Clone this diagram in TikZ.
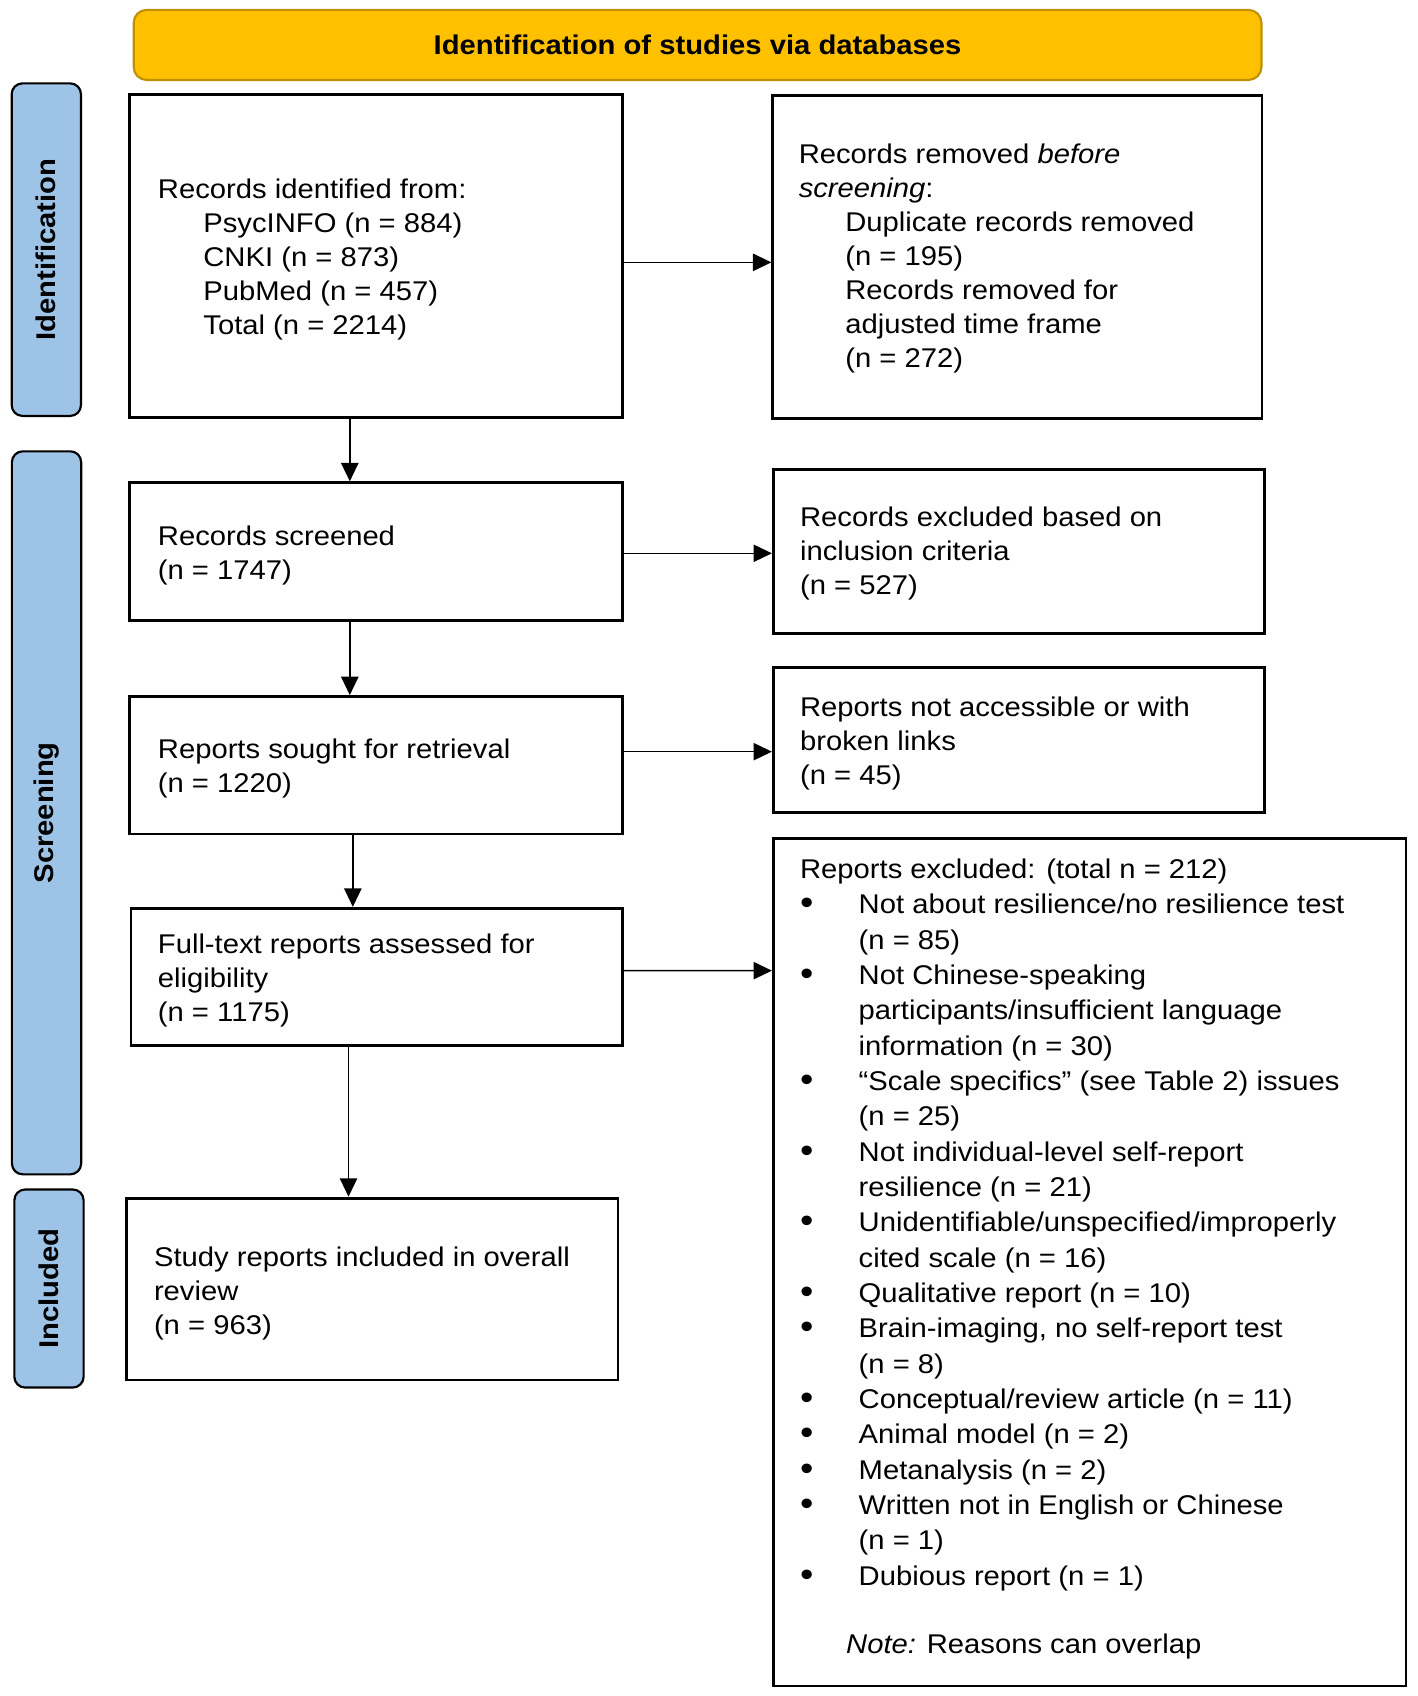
\documentclass[tikz,border=0pt]{standalone}
\usepackage{fontspec}
\setmainfont{Liberation Sans}[FakeStretch=1.08]
\usetikzlibrary{arrows.meta}
\definecolor{ybar}{HTML}{FFC000}
\definecolor{yedge}{HTML}{BF9000}
\definecolor{bbar}{HTML}{9DC3E6}
\newcommand\pbul{\hspace*{0pt}\makebox[54.2pt][l]{\raisebox{-1pt}{\scalebox{1.3}{\textbullet}}}}
\newcommand\pcont{\hspace*{54.2pt}}
\tikzset{
  box/.style={draw=black, line width=2.6pt, inner sep=0pt, fill=white},
  txt/.style={anchor=north west, inner sep=0pt, align=left, font=\fontsize{25}{31.4}\selectfont},
  txtb/.style={anchor=north west, inner sep=0pt, align=left, font=\fontsize{25}{32.65}\selectfont},
  sidebar/.style={draw=black, line width=2pt, fill=bbar, rounded corners=10pt, inner sep=0pt,
    font=\fontsize{25}{30}\selectfont\bfseries, rotate=90, minimum height=64pt},
  header/.style={draw=yedge, line width=2pt, fill=ybar, rounded corners=12pt, inner sep=0pt,
    font=\fontsize{25}{30}\selectfont\bfseries},
  arr/.style={draw=black, line width=1.4pt, -{Triangle[length=17pt,width=16pt]}}
}
\begin{document}
\begin{tikzpicture}[x=1pt,y=-1pt]
\useasboundingbox[fill=white] (0,0) rectangle (1310,1567);

% header
\node[header, minimum width=1042pt, minimum height=64.7pt] (hdr) at (644.5,41.5) {Identification of studies via databases};

% side bars
\node[sidebar, minimum width=307.3pt] (s1) at (42.8,230.65) {Identification};
\node[sidebar, minimum width=668pt] (s2) at (43,751) {Screening};
\node[sidebar, minimum width=183pt] (s3) at (45.25,1190.5) {Included};

% boxes
\node[box, minimum width=455pt, minimum height=299pt] (b1) at (347.5,236.5) {};
\node[box, minimum width=452pt, minimum height=298.5pt] (b2) at (940,237.25) {};
\node[box, minimum width=455pt, minimum height=127pt] (b3) at (347.5,509.5) {};
\node[box, minimum width=454pt, minimum height=151.4pt] (b4) at (941.5,509.3) {};
\node[box, minimum width=455pt, minimum height=127pt] (b5) at (347.5,707) {};
\node[box, minimum width=454pt, minimum height=134pt] (b6) at (941.5,683.5) {};
\node[box, minimum width=454pt, minimum height=127pt] (b7) at (348,902.65) {};
\node[box, minimum width=584.5pt, minimum height=783.2pt] (b8) at (1006.75,1166.1) {};
\node[box, minimum width=454pt, minimum height=168pt] (b9) at (344,1191) {};

% texts
\node[txt] (t1) at (145.7,161.2) {\strut Records identified from:\\
\hspace*{42pt}PsycINFO (n = 884)\\
\hspace*{42pt}CNKI (n = 873)\\
\hspace*{42pt}PubMed (n = 457)\\
\hspace*{42pt}Total (n = 2214)};

\node[txt] (t2) at (737.8,128.9) {\strut Records removed \textit{before}\\
\textit{screening}:\\
\hspace*{43pt}Duplicate records removed\\
\hspace*{43pt}(n = 195)\\
\hspace*{43pt}Records removed for\\
\hspace*{43pt}adjusted time frame\\
\hspace*{43pt}(n = 272)};

\node[txt] (t3) at (145.7,481.5) {\strut Records screened\\(n = 1747)};
\node[txt] (t4) at (739,464.6) {\strut Records excluded based on\\inclusion criteria\\(n = 527)};
\node[txt] (t5) at (145.7,678.6) {\strut Reports sought for retrieval\\(n = 1220)};
\node[txt] (t6) at (739,640.1) {\strut Reports not accessible or with\\broken links\\(n = 45)};
\node[txt] (t7) at (145.7,858.7) {\strut Full-text reports assessed for\\eligibility\\(n = 1175)};
\node[txt] (t9) at (142.1,1148.3) {\strut Study reports included in overall\\review\\(n = 963)};

\node[txtb] (t8) at (739,788.6) {\strut Reports excluded: (total n = 212)\\
\pbul Not about resilience/no resilience test\\
\pcont (n = 85)\\
\pbul Not Chinese-speaking\\
\pcont participants/insufficient language\\
\pcont information (n = 30)\\
\pbul “Scale specifics” (see Table 2) issues\\
\pcont (n = 25)\\
\pbul Not individual-level self-report\\
\pcont resilience (n = 21)\\
\pbul Unidentifiable/unspecified/improperly\\
\pcont cited scale (n = 16)\\
\pbul Qualitative report (n = 10)\\
\pbul Brain-imaging, no self-report test\\
\pcont (n = 8)\\
\pbul Conceptual/review article (n = 11)\\
\pbul Animal model (n = 2)\\
\pbul Metanalysis (n = 2)\\
\pbul Written not in English or Chinese\\
\pcont (n = 1)\\
\pbul Dubious report (n = 1)\\[30pt]
\hspace*{42.6pt}\textit{Note:} Reasons can overlap};

% horizontal arrows
\draw[arr] ([yshift=-5.9pt]b1.east) -- ([yshift=-5.15pt]b2.west);
\draw[arr] ([yshift=-1.7pt]b3.east) -- ([yshift=-1.9pt]b4.west);
\draw[arr] ([yshift=12.5pt]b5.east) -- ([yshift=-11pt]b6.west);
\draw[arr] ([yshift=5.85pt]b7.east) -- ([yshift=269.3pt]b8.west);

% vertical arrows
\draw[arr] ([xshift=-24.3pt]b1.south) -- ([xshift=-24.3pt]b3.north);
\draw[arr] ([xshift=-24.3pt]b3.south) -- ([xshift=-24.3pt]b5.north);
\draw[arr] ([xshift=-21.5pt]b5.south) -- ([xshift=-22pt]b7.north);
\draw[arr] ([xshift=-26pt]b7.south) -- ([xshift=-22pt]b9.north);
\end{tikzpicture}
\end{document}
